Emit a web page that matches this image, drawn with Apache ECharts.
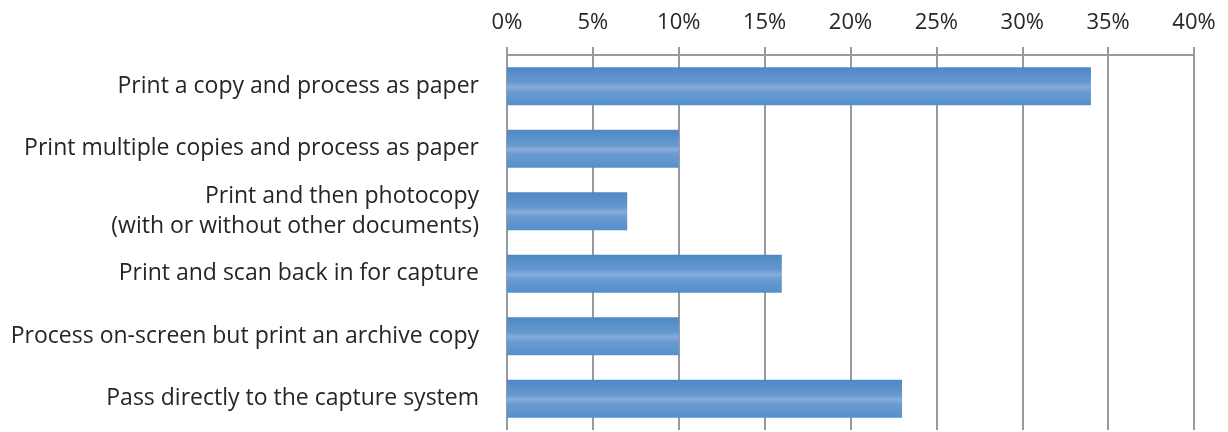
<!DOCTYPE html>
<html>
<head>
<meta charset="utf-8">
<script src="https://cdn.jsdelivr.net/npm/echarts@6/dist/echarts.min.js"></script>
<style>
  html, body { margin: 0; padding: 0; background: #fff; }
  #chart { width: 1228px; height: 432px; }
</style>
</head>
<body>
<div id="chart"></div>
<script>
// Handling options for documents received, top to bottom
const categories = [
  'Print a copy and process as paper',
  'Print multiple copies and process as paper',
  'Print and then photocopy\n(with or without other documents)',
  'Print and scan back in for capture',
  'Process on-screen but print an archive copy',
  'Pass directly to the capture system'
];
// Share of respondents, percent
const shares = [34, 10, 7, 16, 10, 23];
// Percentage axis
const axisMin = 0;
const axisMax = 40;
const axisStep = 5;

const FONT = '"Open Sans", "DejaVu Sans", sans-serif';
const GRID_GREY = '#959ba1';

const chart = echarts.init(document.getElementById('chart'), null, { renderer: 'canvas' });

chart.setOption({
  animation: false,
  backgroundColor: '#ffffff',
  grid: { left: 507, right: 34, top: 55, bottom: 2, containLabel: false },
  xAxis: {
    type: 'value',
    position: 'top',
    min: axisMin,
    max: axisMax,
    interval: axisStep,
    axisLine: { show: true, lineStyle: { color: GRID_GREY, width: 2 } },
    axisTick: { show: true, inside: false, length: 8, lineStyle: { color: GRID_GREY, width: 2 } },
    splitLine: { show: true, lineStyle: { color: GRID_GREY, width: 2 } },
    axisLabel: {
      formatter: '{value}%',
      color: '#262626',
      fontFamily: FONT,
      fontSize: 22,
      margin: 21
    }
  },
  yAxis: {
    type: 'category',
    data: categories,
    inverse: true,
    axisLine: { show: false },
    axisTick: { show: false },
    splitLine: { show: false },
    axisLabel: {
      color: '#262626',
      fontFamily: FONT,
      fontSize: 23,
      lineHeight: 30,
      margin: 28,
      align: 'right'
    }
  },
  series: [{
    type: 'bar',
    data: shares,
    barCategoryGap: '39%',
    itemStyle: {
      color: new echarts.graphic.LinearGradient(0, 0, 0, 1, [
        { offset: 0, color: '#4e88c4' },
        { offset: 0.4, color: '#6698d0' },
        { offset: 0.52, color: '#88acdb' },
        { offset: 0.64, color: '#6a9bd2' },
        { offset: 1, color: '#5490cb' }
      ])
    }
  }]
});
</script>
</body>
</html>
